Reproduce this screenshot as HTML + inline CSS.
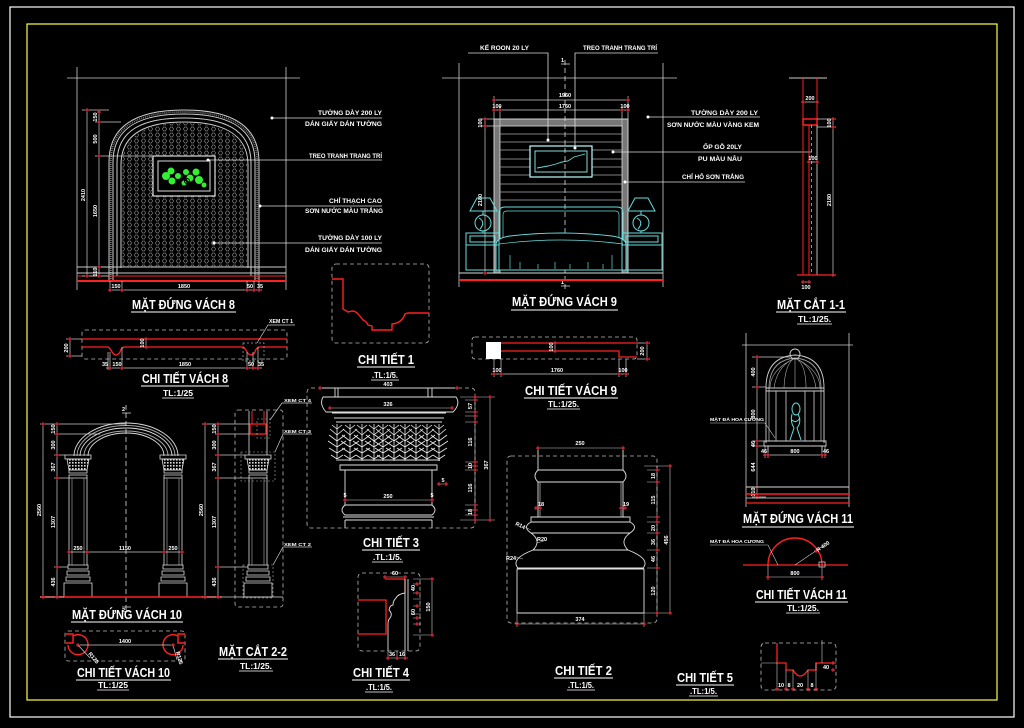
<!DOCTYPE html>
<html><head><meta charset="utf-8">
<style>
html,body{margin:0;padding:0;background:#000}
svg{display:block}
.t{font-family:"Liberation Sans",sans-serif;font-weight:bold;fill:#fff}
.ttl{font-size:12.5px}
.sc{font-size:8px}
.sm{font-size:6.3px}
.dm{font-size:5.5px}
</style></head><body>
<svg width="1024" height="728" viewBox="0 0 1024 728" xmlns="http://www.w3.org/2000/svg">
<defs>
<pattern id="hx" width="7" height="6" patternUnits="userSpaceOnUse"><path d="M1.5,3L2.5,1H4.5L5.5,3L4.5,5H2.5Z" fill="none" stroke="#a0a0a0" stroke-width="0.6"/></pattern>
<pattern id="dt" width="3" height="3" patternUnits="userSpaceOnUse"><rect width="1.6" height="1.6" fill="#ddd"/></pattern>
<g id="k"><path d="M-2,0H2M0,-2V2" stroke="#ff3040" stroke-width="0.9"/></g>
<g id="lf" fill="none" stroke="#ececec" stroke-width="0.8">
<path d="M0,37V0M0,5l-5,-4M0,5l5,-4M0,11l-7,-6M0,11l7,-6M0,17l-8,-6M0,17l8,-6M0,23l-9,-6M0,23l9,-6M0,29l-8,-5M0,29l8,-5M0,35l-6,-4M0,35l6,-4"/>
</g>
<g id="col" fill="none" stroke="#ddd" stroke-width="0.8">
<path d="M-13,455H13V459H-13Z"/>
<path d="M-11,459H11L9,470H-9Z" fill="url(#dt)"/>
<path d="M-9,470H9V473H-9ZM-9,475H9V478H-9Z"/>
<path d="M-9,478V565M9,478V565"/>
<path d="M-6,478V565M6,478V565" stroke="#888"/>
<path d="M-10,565H10V569H-10ZM-11,571H11V575H-11ZM-12,577H12V581H-12ZM-14,583H14V597H-14Z"/>
</g>
</defs>
<rect width="1024" height="728" fill="#000"/>
<rect x="10" y="7" width="1004" height="710" fill="none" stroke="#fff" stroke-width="1.2"/>
<rect x="27" y="24" width="970" height="676" fill="none" stroke="#ffff40" stroke-width="1.2"/>

<!-- ================= MAT DUNG VACH 8 ================= -->
<path d="M67,78H300M77,67V290M286,67V290" stroke="#ccc" stroke-width="0.8" fill="none"/>
<path d="M122,267V165C122,133 150,123 184,123C218,123 247,133 247,165V267Z" fill="url(#hx)"/>
<g fill="none" stroke="#d0d0d0" stroke-width="1">
<path d="M109,281V162C109,122 142,110 184,110C226,110 259,122 259,162V281"/>
<path d="M110.8,281V162C110.8,124 143,112 184,112C225,112 257.2,124 257.2,162V281" stroke="#777" stroke-width="1.8" stroke-dasharray="1,1"/>
<path d="M113,281V162C113,125 144,114 184,114C224,114 255,125 255,162V281"/>
<path d="M117,276V163C117,128 146,118 184,118C222,118 251,128 251,163V276"/>
<path d="M121,268V165C121,132 149,122 184,122C219,122 248,132 248,165V268"/>
</g>
<rect x="153" y="156" width="62" height="40" fill="#000" stroke="#ddd" stroke-width="1.2"/>
<rect x="158" y="161" width="52" height="30" fill="#000" stroke="#ddd" stroke-width="1"/>
<g fill="#33ee33">
<circle cx="166" cy="176" r="4"/><circle cx="171" cy="171" r="3.5"/><circle cx="172" cy="181" r="3.5"/><circle cx="178" cy="176" r="3"/>
<circle cx="186" cy="172" r="3"/><circle cx="190" cy="178" r="3.5"/><circle cx="196" cy="172" r="3.5"/><circle cx="199" cy="180" r="4"/><circle cx="204" cy="185" r="2.5"/><circle cx="184" cy="183" r="2.5"/>
</g>
<circle cx="187" cy="181" r="2.5" fill="none" stroke="#000" stroke-width="1"/>
<path d="M77,267H286M77,273H286" stroke="#ccc" stroke-width="0.9"/>
<path d="M77,276H286" stroke="#ff2020" stroke-width="0.9"/>
<path d="M77,281H286" stroke="#ff2020" stroke-width="2"/>
<path d="M87,110V276M99,112V276M82,110H109M95,122H121M95,156H153M82,276H109M95,267H109" stroke="#ccc" stroke-width="0.7"/>
<use href="#k" x="87" y="110"/><use href="#k" x="87" y="276"/><use href="#k" x="99" y="112"/><use href="#k" x="99" y="122"/><use href="#k" x="99" y="156"/><use href="#k" x="99" y="267"/><use href="#k" x="99" y="276"/>
<text class="t dm" transform="translate(85,195) rotate(-90)" text-anchor="middle">2410</text>
<text class="t dm" transform="translate(97,117) rotate(-90)" text-anchor="middle">150</text>
<text class="t dm" transform="translate(97,139) rotate(-90)" text-anchor="middle">500</text>
<text class="t dm" transform="translate(97,211) rotate(-90)" text-anchor="middle">1650</text>
<text class="t dm" transform="translate(97,272) rotate(-90)" text-anchor="middle">110</text>
<path d="M108,290H262M110,281V292M122,281V292M247,281V292M254,281V292M259,281V292" stroke="#ccc" stroke-width="0.7"/>
<use href="#k" x="110" y="290"/><use href="#k" x="122" y="290"/><use href="#k" x="247" y="290"/><use href="#k" x="254" y="290"/><use href="#k" x="259" y="290"/>
<text class="t dm" x="116" y="288" text-anchor="middle">150</text>
<text class="t dm" x="184" y="288" text-anchor="middle">1850</text>
<text class="t dm" x="250" y="288" text-anchor="middle">50</text>
<text class="t dm" x="260" y="288" text-anchor="middle">35</text>
<text class="t ttl" x="132" y="309" textLength="103" lengthAdjust="spacingAndGlyphs">MẶT ĐỨNG VÁCH 8</text>
<path d="M131,312H236" stroke="#fff" stroke-width="1"/>
<!-- labels -->
<g stroke="#ddd" stroke-width="0.8">
<path d="M272,118H382M208,160H382M260,206H382M214,243H382"/>
</g>
<g fill="#fff"><circle cx="272" cy="118" r="1.5"/><circle cx="208" cy="160" r="1.5"/><circle cx="260" cy="206" r="1.5"/><circle cx="214" cy="243" r="1.5"/></g>
<text class="t sm" x="318" y="115" textLength="64" lengthAdjust="spacingAndGlyphs">TƯỜNG DÀY 200 LY</text>
<text class="t sm" x="305" y="126" textLength="77" lengthAdjust="spacingAndGlyphs">DÁN GIẤY DÁN TƯỜNG</text>
<text class="t sm" x="309" y="158" textLength="73" lengthAdjust="spacingAndGlyphs">TREO TRANH TRANG TRÍ</text>
<text class="t sm" x="329" y="203" textLength="53" lengthAdjust="spacingAndGlyphs">CHỈ THẠCH CAO</text>
<text class="t sm" x="305" y="213" textLength="78" lengthAdjust="spacingAndGlyphs">SƠN NƯỚC MÀU TRẮNG</text>
<text class="t sm" x="318" y="240" textLength="64" lengthAdjust="spacingAndGlyphs">TƯỜNG DÀY 100 LY</text>
<text class="t sm" x="305" y="252" textLength="77" lengthAdjust="spacingAndGlyphs">DÁN GIẤY DÁN TƯỜNG</text>

<!-- ================= MAT DUNG VACH 9 ================= -->
<path d="M442,78H677M459,63V287M663,63V287" stroke="#ccc" stroke-width="0.8"/>
<rect x="494" y="119" width="134" height="154" fill="#777" stroke="#ddd" stroke-width="0.9"/>
<rect x="500" y="126" width="122" height="147" fill="#000" stroke="#ddd" stroke-width="0.8"/>
<path d="M500,134H622M500,142H622M500,150H622M500,159H622M500,167H622M500,175H622M500,184H622M500,192H622M500,200H622" stroke="#aaa" stroke-width="0.8"/>
<rect x="530" y="146" width="62" height="31" fill="#000" stroke="#bff" stroke-width="1.2"/>
<rect x="535" y="151" width="52" height="21" fill="#000" stroke="#9ee" stroke-width="0.9"/>
<path d="M537,168L548,166L556,164L562,162L568,161L574,157L585,154" stroke="#6dd" stroke-width="0.9" fill="none"/>
<path d="M565,60V290" stroke="#ddd" stroke-dasharray="5,3" stroke-width="0.8"/>
<path d="M561,64H570M561,286H570" stroke="#ddd" stroke-width="0.8"/>
<text class="t dm" x="561" y="62">1</text><text class="t dm" x="561" y="284">1</text>
<g fill="none" stroke="#66dede" stroke-width="1">
<path d="M499,250V213Q499,207 505,207H617Q623,207 623,213V250"/>
<path d="M503,250V215Q503,211 507,211H615Q619,211 619,215V250" stroke-width="0.7"/>
<path d="M496,270V245Q496,238 510,236Q561,230 612,236Q626,238 626,245V270Z" fill="#000"/>
<path d="M499,244Q561,236 623,244" stroke-width="0.7"/>
<path d="M510,255V269M520,262V269M538,264V269M555,262V269M570,264V269M588,262V269M603,264V269M612,255V269" stroke-width="0.7"/>
<path d="M466,233H499V270H466ZM470,236H495V242H470ZM466,245H499"/>
<path d="M622,233H662V270H622ZM626,236H658V242H626ZM622,245H662"/>
<path d="M477,198H490L497,211H470Z"/><circle cx="483" cy="223" r="8"/><path d="M479,218Q486,222 480,229M483,211V215M483,231V233"/>
<path d="M635,198H648L655,211H628Z"/><circle cx="641" cy="223" r="8"/><path d="M637,218Q644,222 638,229M641,211V215M641,231V233"/>
</g>
<path d="M459,273H663" stroke="#ddd" stroke-width="0.9"/>
<path d="M459,280H663" stroke="#ff2020" stroke-width="2"/>
<path d="M494,100H628M494,110H628M494,96V119M500,106V126M622,106V126M628,96V119" stroke="#ccc" stroke-width="0.7"/>
<use href="#k" x="494" y="100"/><use href="#k" x="628" y="100"/><use href="#k" x="494" y="110"/><use href="#k" x="500" y="110"/><use href="#k" x="622" y="110"/><use href="#k" x="628" y="110"/>
<text class="t dm" x="565" y="97" text-anchor="middle">1960</text>
<text class="t dm" x="565" y="108" text-anchor="middle">1760</text>
<text class="t dm" x="497" y="108" text-anchor="middle">100</text>
<text class="t dm" x="625" y="108" text-anchor="middle">100</text>
<path d="M485,119V273M480,119H494M480,126H500" stroke="#ccc" stroke-width="0.7"/>
<use href="#k" x="485" y="119"/><use href="#k" x="485" y="126"/><use href="#k" x="485" y="273"/>
<text class="t dm" transform="translate(482,123) rotate(-90)" text-anchor="middle">100</text>
<text class="t dm" transform="translate(482,200) rotate(-90)" text-anchor="middle">2180</text>
<g stroke="#ddd" stroke-width="0.8" fill="none">
<path d="M468,53H548V140M575,148V53H658"/>
<path d="M648,117H760M613,152H812M625,182H745"/>
</g>
<g fill="#fff"><circle cx="548" cy="140" r="1.5"/><circle cx="575" cy="148" r="1.5"/><circle cx="648" cy="117" r="1.5"/><circle cx="613" cy="152" r="1.5"/><circle cx="625" cy="182" r="1.5"/></g>
<text class="t sm" x="480" y="50" textLength="49" lengthAdjust="spacingAndGlyphs">KẾ ROON 20 LY</text>
<text class="t sm" x="583" y="50" textLength="74" lengthAdjust="spacingAndGlyphs">TREO TRANH TRANG TRÍ</text>
<text class="t sm" x="691" y="115" textLength="67" lengthAdjust="spacingAndGlyphs">TƯỜNG DÀY 200 LY</text>
<text class="t sm" x="667" y="127" textLength="92" lengthAdjust="spacingAndGlyphs">SƠN NƯỚC MÀU VÀNG KEM</text>
<text class="t sm" x="703" y="149" textLength="39" lengthAdjust="spacingAndGlyphs">ỐP GỖ 20LY</text>
<text class="t sm" x="698" y="161" textLength="44" lengthAdjust="spacingAndGlyphs">PU MÀU NÂU</text>
<text class="t sm" x="682" y="179" textLength="62" lengthAdjust="spacingAndGlyphs">CHỈ HỔ SƠN TRẮNG</text>
<text class="t ttl" x="512" y="306" textLength="105" lengthAdjust="spacingAndGlyphs">MẶT ĐỨNG VÁCH 9</text>
<path d="M511,310H618" stroke="#fff" stroke-width="1"/>

<!-- ================= MAT CAT 1-1 ================= -->
<path d="M789,78H827" stroke="#ccc" stroke-width="0.9"/>
<path d="M803,78V275M817,78V119M809,125V275" stroke="#ff2020" stroke-width="1"/>
<rect x="803" y="119" width="14" height="6" fill="none" stroke="#ff2020" stroke-width="1.5"/>
<path d="M811.5,125V275" stroke="#ccc" stroke-dasharray="3,3" stroke-width="0.7"/>
<path d="M817,125V275" stroke="#ccc" stroke-width="0.9"/>
<path d="M797,275H836" stroke="#ff2020" stroke-width="1.3"/>
<path d="M803,102H817M833,119V275M817,119H836M817,127H836M809,162H817M803,282H809" stroke="#ccc" stroke-width="0.7"/>
<use href="#k" x="803" y="102"/><use href="#k" x="817" y="102"/><use href="#k" x="833" y="119"/><use href="#k" x="833" y="127"/><use href="#k" x="833" y="275"/><use href="#k" x="809" y="162"/><use href="#k" x="817" y="162"/><use href="#k" x="803" y="282"/><use href="#k" x="809" y="282"/>
<text class="t dm" x="810" y="100" text-anchor="middle">200</text>
<text class="t dm" x="813" y="160" text-anchor="middle">100</text>
<text class="t dm" x="806" y="289" text-anchor="middle">100</text>
<text class="t dm" transform="translate(831,123) rotate(-90)" text-anchor="middle">100</text>
<text class="t dm" transform="translate(831,200) rotate(-90)" text-anchor="middle">2180</text>
<text class="t ttl" x="777" y="309" textLength="68" lengthAdjust="spacingAndGlyphs">MẶT CẮT 1-1</text>
<path d="M776,312H846" stroke="#fff" stroke-width="1"/>
<text class="t sc" x="798" y="322" textLength="33" lengthAdjust="spacingAndGlyphs">TL:1/25.</text>
<path d="M797,324H832" stroke="#fff" stroke-width="0.8"/>

<!-- ================= CHI TIET VACH 8 ================= -->
<rect x="82" y="330" width="205" height="29" rx="3" fill="none" stroke="#bbb" stroke-dasharray="4,3" stroke-width="0.8"/>
<path d="M82,339H287" stroke="#ff2020" stroke-width="1.3"/>
<path d="M82,347H108Q110,348 112,352Q116,358 120,352Q121,348 124,347H243Q245,348 247,352Q251,358 255,352Q256,348 259,347H287" stroke="#ff2020" stroke-width="1.3" fill="none"/>
<rect x="243" y="343" width="21" height="18" fill="none" stroke="#aaa" stroke-dasharray="2,2" stroke-width="0.7"/>
<path d="M70,339V356M66,339H82M66,356H82M146,339V347M108,352V370M110,352V370M122,347V370M247,352V370M253,352V370M258,347V370M106,368H262" stroke="#ccc" stroke-width="0.7"/>
<use href="#k" x="70" y="339"/><use href="#k" x="70" y="356"/><use href="#k" x="146" y="339"/><use href="#k" x="146" y="347"/>
<use href="#k" x="110" y="368"/><use href="#k" x="122" y="368"/><use href="#k" x="247" y="368"/><use href="#k" x="253" y="368"/><use href="#k" x="258" y="368"/>
<text class="t dm" transform="translate(68,348) rotate(-90)" text-anchor="middle">200</text>
<text class="t dm" transform="translate(144,343) rotate(-90)" text-anchor="middle">100</text>
<text class="t dm" x="105" y="366" text-anchor="middle">35</text>
<text class="t dm" x="117" y="366" text-anchor="middle">150</text>
<text class="t dm" x="185" y="366" text-anchor="middle">1850</text>
<text class="t dm" x="251" y="366" text-anchor="middle">50</text>
<text class="t dm" x="261" y="366" text-anchor="middle">35</text>
<path d="M257,343L268,325H295" stroke="#ccc" stroke-width="0.7" fill="none"/>
<text class="t" style="font-size:5px" x="269" y="323" textLength="24" lengthAdjust="spacingAndGlyphs">XEM CT 1</text>
<text class="t ttl" x="142" y="383" textLength="86" lengthAdjust="spacingAndGlyphs">CHI TIẾT VÁCH 8</text>
<path d="M141,386H229" stroke="#fff" stroke-width="1"/>
<text class="t sc" x="163" y="396" textLength="30" lengthAdjust="spacingAndGlyphs">TL:1/25</text>
<path d="M162,398H194" stroke="#fff" stroke-width="0.8"/>

<!-- ================= CHI TIET 1 ================= -->
<rect x="332" y="264" width="97" height="79" rx="4" fill="none" stroke="#bbb" stroke-dasharray="4,3" stroke-width="0.8"/>
<path d="M332,279H343V309L348,312L352,311Q356,311 359,315L363,320Q366,321 368,325L372,326V330H392V324Q402,323 405,314L408,313H429" stroke="#ff2020" stroke-width="1.4" fill="none"/>
<text class="t ttl" x="358" y="364" textLength="56" lengthAdjust="spacingAndGlyphs">CHI TIẾT 1</text>
<path d="M357,367H415" stroke="#fff" stroke-width="1"/>
<text class="t sc" x="372" y="378" textLength="26" lengthAdjust="spacingAndGlyphs">.TL:1/5.</text>
<path d="M371,380H399" stroke="#fff" stroke-width="0.8"/>

<!-- ================= CHI TIET VACH 9 ================= -->
<rect x="472" y="337" width="165" height="22" rx="3" fill="none" stroke="#bbb" stroke-dasharray="4,3" stroke-width="0.8"/>
<rect x="486" y="342" width="15" height="17" fill="#fff"/>
<path d="M501,343H637M501,351H619V357H637" stroke="#ff2020" stroke-width="1.3" fill="none"/>
<path d="M555,343V351M647,343V359M637,343H650M637,359H650M494,359V377M501,359V377M619,359V377M626,359V377M491,374H629" stroke="#ccc" stroke-width="0.7"/>
<use href="#k" x="555" y="343"/><use href="#k" x="555" y="351"/><use href="#k" x="647" y="343"/><use href="#k" x="647" y="359"/>
<use href="#k" x="494" y="374"/><use href="#k" x="501" y="374"/><use href="#k" x="619" y="374"/><use href="#k" x="626" y="374"/>
<text class="t dm" transform="translate(553,347) rotate(-90)" text-anchor="middle">100</text>
<text class="t dm" transform="translate(644,351) rotate(-90)" text-anchor="middle">200</text>
<text class="t dm" x="497" y="372" text-anchor="middle">100</text>
<text class="t dm" x="557" y="372" text-anchor="middle">1760</text>
<text class="t dm" x="623" y="372" text-anchor="middle">100</text>
<text class="t ttl" x="525" y="395" textLength="92" lengthAdjust="spacingAndGlyphs">CHI TIẾT VÁCH 9</text>
<path d="M524,398H618" stroke="#fff" stroke-width="1"/>
<text class="t sc" x="548" y="407" textLength="31" lengthAdjust="spacingAndGlyphs">TL:1/25.</text>
<path d="M547,409H580" stroke="#fff" stroke-width="0.8"/>

<!-- ================= MAT DUNG VACH 10 ================= -->
<g fill="none" stroke="#ddd" stroke-width="0.9">
<path d="M74,456A52,33 0 0 1 178,456"/>
<path d="M77,456A49,30.5 0 0 1 175,456" stroke="#aaa"/>
<path d="M80,456A46,28 0 0 1 172,456"/>
<path d="M84,456A42,25 0 0 1 168,456" stroke="#aaa"/>
<path d="M88,456A38,23 0 0 1 164,456"/>
</g>
<use href="#col" x="78"/><use href="#col" x="173"/>
<path d="M126,405V610" stroke="#ddd" stroke-dasharray="5,3" stroke-width="0.8"/>
<path d="M122,413H131M122,607H131" stroke="#ddd" stroke-width="0.8"/>
<text class="t dm" x="122" y="411">2</text><text class="t dm" x="122" y="612">2</text>
<path d="M40,597H222" stroke="#ff2020" stroke-width="1.4"/>
<path d="M43,424V597M57,424V597M40,424H126M54,434H100M54,455H65M54,478H69M54,567H68M40,597H64" stroke="#ccc" stroke-width="0.7"/>
<use href="#k" x="43" y="424"/><use href="#k" x="43" y="597"/><use href="#k" x="57" y="424"/><use href="#k" x="57" y="434"/><use href="#k" x="57" y="455"/><use href="#k" x="57" y="478"/><use href="#k" x="57" y="567"/><use href="#k" x="57" y="597"/>
<text class="t dm" transform="translate(41,510) rotate(-90)" text-anchor="middle">2560</text>
<text class="t dm" transform="translate(55,429) rotate(-90)" text-anchor="middle">150</text>
<text class="t dm" transform="translate(55,445) rotate(-90)" text-anchor="middle">300</text>
<text class="t dm" transform="translate(55,467) rotate(-90)" text-anchor="middle">367</text>
<text class="t dm" transform="translate(55,522) rotate(-90)" text-anchor="middle">1307</text>
<text class="t dm" transform="translate(55,582) rotate(-90)" text-anchor="middle">436</text>
<path d="M69,552H182" stroke="#ccc" stroke-width="0.7"/>
<use href="#k" x="69" y="552"/><use href="#k" x="87" y="552"/><use href="#k" x="164" y="552"/><use href="#k" x="182" y="552"/>
<text class="t dm" x="78" y="550" text-anchor="middle">250</text>
<text class="t dm" x="125" y="550" text-anchor="middle">1150</text>
<text class="t dm" x="173" y="550" text-anchor="middle">250</text>
<text class="t ttl" x="72" y="619" textLength="110" lengthAdjust="spacingAndGlyphs">MẶT ĐỨNG VÁCH 10</text>
<path d="M71,622H183" stroke="#fff" stroke-width="1"/>

<!-- ================= MAT CAT 2-2 ================= -->
<rect x="235" y="410" width="48" height="197" rx="3" fill="none" stroke="#bbb" stroke-dasharray="4,3" stroke-width="0.8"/>
<path d="M249,411V455M267,411V455" stroke="#ddd" stroke-width="0.8"/>
<path d="M252,411V424M264,411V424" stroke="#ff2020" stroke-width="1"/>
<rect x="250" y="424" width="16" height="10" fill="none" stroke="#ff2020" stroke-width="1.3"/>
<use href="#col" x="258"/>
<path d="M235,597H283" stroke="#ddd" stroke-width="0.8"/>
<rect x="257" y="419" width="13" height="19" fill="none" stroke="#aaa" stroke-dasharray="2,2" stroke-width="0.6"/>
<rect x="241" y="452" width="34" height="29" fill="none" stroke="#aaa" stroke-dasharray="2,2" stroke-width="0.6"/>
<rect x="243" y="565" width="30" height="33" fill="none" stroke="#aaa" stroke-dasharray="2,2" stroke-width="0.6"/>
<path d="M205,424V597M218,424V597M202,424H249M215,434H249M215,455H245M215,478H249M215,567H248M202,597H235" stroke="#ccc" stroke-width="0.7"/>
<use href="#k" x="205" y="424"/><use href="#k" x="205" y="597"/><use href="#k" x="218" y="424"/><use href="#k" x="218" y="434"/><use href="#k" x="218" y="455"/><use href="#k" x="218" y="478"/><use href="#k" x="218" y="567"/><use href="#k" x="218" y="597"/>
<text class="t dm" transform="translate(203,510) rotate(-90)" text-anchor="middle">2560</text>
<text class="t dm" transform="translate(216,429) rotate(-90)" text-anchor="middle">150</text>
<text class="t dm" transform="translate(216,445) rotate(-90)" text-anchor="middle">300</text>
<text class="t dm" transform="translate(216,467) rotate(-90)" text-anchor="middle">367</text>
<text class="t dm" transform="translate(216,522) rotate(-90)" text-anchor="middle">1307</text>
<text class="t dm" transform="translate(216,582) rotate(-90)" text-anchor="middle">436</text>
<path d="M270,420L282,403H312M275,452L283,434H312M273,565L283,547H312" stroke="#ccc" stroke-width="0.7" fill="none"/>
<text class="t" style="font-size:4.8px" x="284" y="402" textLength="27" lengthAdjust="spacingAndGlyphs">XEM CT 4</text>
<text class="t" style="font-size:4.8px" x="284" y="433" textLength="27" lengthAdjust="spacingAndGlyphs">XEM CT 3</text>
<text class="t" style="font-size:4.8px" x="284" y="546" textLength="27" lengthAdjust="spacingAndGlyphs">XEM CT 2</text>
<text class="t ttl" x="219" y="656" textLength="68" lengthAdjust="spacingAndGlyphs">MẶT CẮT 2-2</text>
<path d="M218,659H288" stroke="#fff" stroke-width="1"/>
<text class="t sc" x="240" y="669" textLength="32" lengthAdjust="spacingAndGlyphs">TL:1/25.</text>
<path d="M239,671H273" stroke="#fff" stroke-width="0.8"/>

<!-- ================= CHI TIET VACH 10 ================= -->
<rect x="65" y="631" width="120" height="30" rx="3" fill="none" stroke="#bbb" stroke-dasharray="4,3" stroke-width="0.8"/>
<g fill="none" stroke="#ff2020" stroke-width="1.4">
<path d="M73,636A10,10 0 1 1 68,645"/><path d="M66,634H73V643H66"/>
<path d="M178,636A10,10 0 1 0 183,645"/><path d="M185,634H178V643H185"/>
</g>
<path d="M78,645H173M78,645L90,658M173,645L177,660" stroke="#ccc" stroke-width="0.7"/>
<use href="#k" x="78" y="645"/><use href="#k" x="173" y="645"/>
<text class="t dm" x="125" y="643" text-anchor="middle">1400</text>
<text class="t dm" transform="translate(88,654) rotate(50)">R125</text>
<text class="t dm" transform="translate(176,652) rotate(75)">R125</text>
<text class="t ttl" x="77" y="677" textLength="93" lengthAdjust="spacingAndGlyphs">CHI TIẾT VÁCH 10</text>
<path d="M76,680H171" stroke="#fff" stroke-width="1"/>
<text class="t sc" x="98" y="688" textLength="30" lengthAdjust="spacingAndGlyphs">TL:1/25</text>
<path d="M97,690H129" stroke="#fff" stroke-width="0.8"/>

<!-- ================= CHI TIET 3 ================= -->
<rect x="307" y="388" width="168" height="140" rx="4" fill="none" stroke="#bbb" stroke-dasharray="4,3" stroke-width="0.8"/>
<g fill="none" stroke="#e0e0e0" stroke-width="0.9">
<path d="M320,388H457"/>
<path d="M335,388V397M338,388V397M428,388V397M432,388V397"/>
<path d="M326,412Q319,404 323,397H456Q461,404 453,412Z"/>
<path d="M332,413H446M334,418H444M336,422H442"/>
<path d="M338,460H440M340,465H437V470H340Z"/>
<path d="M345,470V505M432,470V505"/>
<path d="M345,505H432Q438,510 432,515H345Q339,510 345,505Z"/>
<path d="M343,517H434M345,520V528M432,520V528M345,520H432"/>
</g>
<use href="#lf" x="337" y="424"/><use href="#lf" x="350" y="424"/><use href="#lf" x="362" y="424"/><use href="#lf" x="374" y="424"/><use href="#lf" x="383" y="424"/><use href="#lf" x="394" y="424"/><use href="#lf" x="405" y="424"/><use href="#lf" x="416" y="424"/><use href="#lf" x="427" y="424"/><use href="#lf" x="439" y="424"/>
<path d="M320,388H457M330,408H452M345,500H432M439,484H446" stroke="#ccc" stroke-width="0.6"/>
<use href="#k" x="320" y="388"/><use href="#k" x="457" y="388"/><use href="#k" x="330" y="408"/><use href="#k" x="452" y="408"/><use href="#k" x="345" y="500"/><use href="#k" x="432" y="500"/><use href="#k" x="439" y="484"/><use href="#k" x="446" y="484"/>
<text class="t dm" x="388" y="386" text-anchor="middle">403</text>
<text class="t dm" x="388" y="406" text-anchor="middle">326</text>
<text class="t dm" x="388" y="498" text-anchor="middle">250</text>
<text class="t dm" x="345" y="497" text-anchor="middle">5</text>
<text class="t dm" x="432" y="497" text-anchor="middle">5</text>
<text class="t dm" x="443" y="482" text-anchor="middle">5</text>
<path d="M460,397H495M465,400H478M465,412H478M465,416H478M465,422H478M465,462H478M465,466H478M465,470H478M465,505H478M465,510H478M465,515H478M460,520H495M475,397V520M490,397V520" stroke="#ccc" stroke-width="0.6"/>
<use href="#k" x="475" y="397"/><use href="#k" x="475" y="400"/><use href="#k" x="475" y="412"/><use href="#k" x="475" y="416"/><use href="#k" x="475" y="422"/><use href="#k" x="475" y="462"/><use href="#k" x="475" y="466"/><use href="#k" x="475" y="470"/><use href="#k" x="475" y="505"/><use href="#k" x="475" y="510"/><use href="#k" x="475" y="515"/><use href="#k" x="475" y="520"/><use href="#k" x="490" y="397"/><use href="#k" x="490" y="520"/>
<text class="t dm" transform="translate(472,406) rotate(-90)" text-anchor="middle">57</text>
<text class="t dm" transform="translate(472,442) rotate(-90)" text-anchor="middle">116</text>
<text class="t dm" transform="translate(472,466) rotate(-90)" text-anchor="middle">10</text>
<text class="t dm" transform="translate(472,488) rotate(-90)" text-anchor="middle">116</text>
<text class="t dm" transform="translate(472,512) rotate(-90)" text-anchor="middle">18</text>
<text class="t dm" transform="translate(488,465) rotate(-90)" text-anchor="middle">367</text>
<text class="t ttl" x="363" y="547" textLength="56" lengthAdjust="spacingAndGlyphs">CHI TIẾT 3</text>
<path d="M362,550H420" stroke="#fff" stroke-width="1"/>
<text class="t sc" x="373" y="560" textLength="29" lengthAdjust="spacingAndGlyphs">.TL:1/5.</text>
<path d="M372,562H403" stroke="#fff" stroke-width="0.8"/>

<!-- ================= CHI TIET 2 ================= -->
<rect x="507" y="456" width="150" height="167" rx="4" fill="none" stroke="#bbb" stroke-dasharray="4,3" stroke-width="0.8"/>
<g fill="none" stroke="#e0e0e0" stroke-width="0.9">
<path d="M538,448V470Q532,476 538,482V517H531V522Q522,527 531,533Q542,541 533,550Q510,559 518,568L517,569V613"/>
<path d="M623,448V470Q629,476 623,482V517H630V522Q639,527 630,533Q619,541 628,550Q651,559 643,568L644,569V613"/>
<path d="M538,470H623M538,482H623M531,517H630M531,522H630M531,533H630M533,550H628M518,568H643M517,569H644M517,613H644"/>
<path d="M540,482V517M621,482V517" stroke="#999"/>
</g>
<path d="M538,448H623M517,624H644M517,613V627M644,613V627M647,470H660M647,482H660M647,517H660M647,522H660M647,533H660M647,550H660M647,568H660M644,613H672M657,466V613M670,466V613M644,466H672" stroke="#ccc" stroke-width="0.6"/>
<use href="#k" x="538" y="448"/><use href="#k" x="623" y="448"/><use href="#k" x="517" y="624"/><use href="#k" x="644" y="624"/>
<use href="#k" x="657" y="470"/><use href="#k" x="657" y="482"/><use href="#k" x="657" y="517"/><use href="#k" x="657" y="522"/><use href="#k" x="657" y="533"/><use href="#k" x="657" y="550"/><use href="#k" x="657" y="568"/><use href="#k" x="657" y="613"/><use href="#k" x="670" y="466"/><use href="#k" x="670" y="613"/>
<use href="#k" x="536" y="508"/><use href="#k" x="540" y="508"/><use href="#k" x="621" y="508"/><use href="#k" x="625" y="508"/>
<text class="t dm" x="580" y="445" text-anchor="middle">250</text>
<text class="t dm" x="580" y="621" text-anchor="middle">374</text>
<text class="t dm" x="538" y="506">18</text>
<text class="t dm" x="623" y="506">19</text>
<text class="t dm" transform="translate(655,476) rotate(-90)" text-anchor="middle">18</text>
<text class="t dm" transform="translate(655,500) rotate(-90)" text-anchor="middle">115</text>
<text class="t dm" transform="translate(655,528) rotate(-90)" text-anchor="middle">20</text>
<text class="t dm" transform="translate(655,542) rotate(-90)" text-anchor="middle">36</text>
<text class="t dm" transform="translate(655,559) rotate(-90)" text-anchor="middle">46</text>
<text class="t dm" transform="translate(655,591) rotate(-90)" text-anchor="middle">120</text>
<text class="t dm" transform="translate(668,540) rotate(-90)" text-anchor="middle">456</text>
<text class="t dm" transform="translate(515,525) rotate(25)">R14</text>
<text class="t dm" x="537" y="541">R20</text>
<text class="t dm" x="506" y="560">R24</text>
<path d="M525,527L531,530M547,540L537,543M516,557L523,559" stroke="#ccc" stroke-width="0.5"/>
<text class="t ttl" x="555" y="675" textLength="57" lengthAdjust="spacingAndGlyphs">CHI TIẾT 2</text>
<path d="M554,678H613" stroke="#fff" stroke-width="1"/>
<text class="t sc" x="568" y="688" textLength="26" lengthAdjust="spacingAndGlyphs">.TL:1/5.</text>
<path d="M567,690H595" stroke="#fff" stroke-width="0.8"/>

<!-- ================= CHI TIET 4 ================= -->
<rect x="358" y="573" width="62" height="78" rx="4" fill="none" stroke="#bbb" stroke-dasharray="4,3" stroke-width="0.8"/>
<path d="M358,600H386V634H358M385,579H405V593" stroke="#ff2020" stroke-width="1.3" fill="none"/>
<g fill="none" stroke="#ddd" stroke-width="0.9">
<path d="M405,593Q398,594 396,598Q393,601 393,605Q390,605 389,610Q393,614 390,618Q388,620 388,624V651"/>
<path d="M405,579V651M408,579V651"/>
</g>
<path d="M385,577H405M413,579H432M413,584H421M413,593H421M413,599H421M413,606H421M413,614H421M413,618H421M413,624H421M413,635H432M432,579V635M388,658H408M388,651V660M397,651V660M405,651V660" stroke="#ccc" stroke-width="0.6"/>
<use href="#k" x="385" y="577"/><use href="#k" x="405" y="577"/><use href="#k" x="432" y="579"/><use href="#k" x="432" y="635"/>
<use href="#k" x="417" y="584"/><use href="#k" x="417" y="593"/><use href="#k" x="417" y="606"/><use href="#k" x="417" y="618"/><use href="#k" x="417" y="624"/>
<use href="#k" x="388" y="658"/><use href="#k" x="397" y="658"/><use href="#k" x="405" y="658"/>
<text class="t dm" x="395" y="575" text-anchor="middle">60</text>
<text class="t dm" transform="translate(430,607) rotate(-90)" text-anchor="middle">150</text>
<text class="t dm" transform="translate(415,588) rotate(-90)" text-anchor="middle">40</text>
<text class="t dm" transform="translate(415,612) rotate(-90)" text-anchor="middle">60</text>
<text class="t dm" x="392" y="656" text-anchor="middle">36</text>
<text class="t dm" x="402" y="656" text-anchor="middle">16</text>
<text class="t ttl" x="353" y="677" textLength="56" lengthAdjust="spacingAndGlyphs">CHI TIẾT 4</text>
<path d="M352,680H410" stroke="#fff" stroke-width="1"/>
<text class="t sc" x="366" y="690" textLength="26" lengthAdjust="spacingAndGlyphs">.TL:1/5.</text>
<path d="M365,692H393" stroke="#fff" stroke-width="0.8"/>

<!-- ================= MAT DUNG VACH 11 ================= -->
<path d="M742,345H853M746,333V507M849,333V507" stroke="#ccc" stroke-width="0.8"/>
<g fill="none" stroke="#d0d0d0" stroke-width="0.9">
<path d="M766,443V388Q766,357 795,355Q824,357 824,388V443"/>
<path d="M769,441V389Q769,360 795,358Q821,360 821,389V441" stroke="#999"/>
<path d="M766,388H824M766,391H824M764,441H826V446H764Z"/>
<path d="M795,358V388M795,358Q777,366 774,388M795,358Q785,363 784,388M795,358Q806,363 806,388M795,358Q813,366 816,388M795,358Q770,370 770,388M795,358Q820,370 820,388" stroke="#aaa" stroke-width="0.6"/>
<path d="M776,391V441M786,391V441M805,391V441M814,391V441" stroke="#bbb"/>
<circle cx="795" cy="354" r="5"/>
<path d="M768,446V452M822,446V452"/>
</g>
<g fill="none" stroke="#66dede" stroke-width="1">
<ellipse cx="796" cy="409" rx="4" ry="6"/>
<path d="M792,414Q790,422 794,428L790,440M798,414Q802,422 797,428L801,440M792,420Q796,424 800,418"/>
</g>
<path d="M757,357V497M752,357H790M752,387H766M752,441H764M752,446H764M752,487H766M752,497H766" stroke="#ccc" stroke-width="0.7"/>
<use href="#k" x="757" y="357"/><use href="#k" x="757" y="387"/><use href="#k" x="757" y="441"/><use href="#k" x="757" y="446"/><use href="#k" x="757" y="487"/><use href="#k" x="757" y="497"/>
<text class="t dm" transform="translate(755,372) rotate(-90)" text-anchor="middle">400</text>
<text class="t dm" transform="translate(755,414) rotate(-90)" text-anchor="middle">800</text>
<text class="t dm" transform="translate(755,444) rotate(-90)" text-anchor="middle">46</text>
<text class="t dm" transform="translate(755,467) rotate(-90)" text-anchor="middle">644</text>
<text class="t dm" transform="translate(755,492) rotate(-90)" text-anchor="middle">110</text>
<path d="M765,455H825M765,446V458M768,446V458M822,446V458M825,446V458" stroke="#ccc" stroke-width="0.7"/>
<use href="#k" x="765" y="455"/><use href="#k" x="768" y="455"/><use href="#k" x="822" y="455"/><use href="#k" x="825" y="455"/>
<text class="t dm" x="764" y="453" text-anchor="middle">46</text>
<text class="t dm" x="795" y="453" text-anchor="middle">800</text>
<text class="t dm" x="826" y="453" text-anchor="middle">46</text>
<path d="M710,423H765L775,438" stroke="#ccc" stroke-width="0.6" fill="none"/>
<text class="t" style="font-size:4.5px" x="710" y="421" textLength="54" lengthAdjust="spacingAndGlyphs">MẶT ĐÁ HOA CƯƠNG</text>
<path d="M746,487H849" stroke="#ddd" stroke-width="0.9"/>
<path d="M746,494H849" stroke="#ff2020" stroke-width="1.5"/>
<path d="M746,498H849" stroke="#ddd" stroke-width="0.7"/>
<path d="M746,503H849" stroke="#ff2020" stroke-width="1.2"/>
<text class="t ttl" x="743" y="523" textLength="110" lengthAdjust="spacingAndGlyphs">MẶT ĐỨNG VÁCH 11</text>
<path d="M742,527H854" stroke="#fff" stroke-width="1"/>

<!-- ================= CHI TIET VACH 11 ================= -->
<path d="M768,565A27,27 0 0 1 822,565" stroke="#ff2020" stroke-width="1.4" fill="none"/>
<path d="M743,565H848" stroke="#ff2020" stroke-width="1.2"/>
<rect x="819" y="562" width="6" height="5" fill="none" stroke="#ddd" stroke-width="0.7"/>
<path d="M795,565L823,546M768,577H822M768,565V580M822,565V580M778,565L768,545H710" stroke="#ccc" stroke-width="0.6" fill="none"/>
<use href="#k" x="768" y="577"/><use href="#k" x="822" y="577"/><use href="#k" x="816" y="551"/>
<text class="t dm" x="795" y="575" text-anchor="middle">800</text>
<text class="t dm" transform="translate(818,552) rotate(-35)">R 400</text>
<text class="t" style="font-size:4.5px" x="710" y="543" textLength="54" lengthAdjust="spacingAndGlyphs">MẶT ĐÁ HOA CƯƠNG</text>
<text class="t ttl" x="756" y="599" textLength="91" lengthAdjust="spacingAndGlyphs">CHI TIẾT VÁCH 11</text>
<path d="M755,602H848" stroke="#fff" stroke-width="1"/>
<text class="t sc" x="787" y="611" textLength="32" lengthAdjust="spacingAndGlyphs">TL:1/25.</text>
<path d="M786,613H820" stroke="#fff" stroke-width="0.8"/>

<!-- ================= CHI TIET 5 ================= -->
<rect x="761" y="643" width="75" height="47" rx="4" fill="none" stroke="#bbb" stroke-dasharray="4,3" stroke-width="0.8"/>
<path d="M777,643V663H786V670H793Q800,682 808,670H816V663H836" stroke="#ff2020" stroke-width="1.3" fill="none"/>
<path d="M761,663H777M777,663V690M786,670V690M793,670V690M808,670V690M816,663V690M822,663V640" stroke="#ccc" stroke-width="0.6"/>
<use href="#k" x="777" y="689"/><use href="#k" x="786" y="689"/><use href="#k" x="793" y="689"/><use href="#k" x="808" y="689"/><use href="#k" x="816" y="689"/><use href="#k" x="833" y="663"/><use href="#k" x="833" y="670"/>
<text class="t dm" x="781" y="687" text-anchor="middle">10</text>
<text class="t dm" x="789" y="687" text-anchor="middle">8</text>
<text class="t dm" x="800" y="687" text-anchor="middle">20</text>
<text class="t dm" x="812" y="687" text-anchor="middle">8</text>
<text class="t dm" x="826" y="669" text-anchor="middle">40</text>
<text class="t ttl" x="677" y="682" textLength="56" lengthAdjust="spacingAndGlyphs">CHI TIẾT 5</text>
<path d="M676,685H734" stroke="#fff" stroke-width="1"/>
<text class="t sc" x="690" y="694" textLength="27" lengthAdjust="spacingAndGlyphs">.TL:1/5.</text>
<path d="M689,696H718" stroke="#fff" stroke-width="0.8"/>
</svg>
</body></html>
